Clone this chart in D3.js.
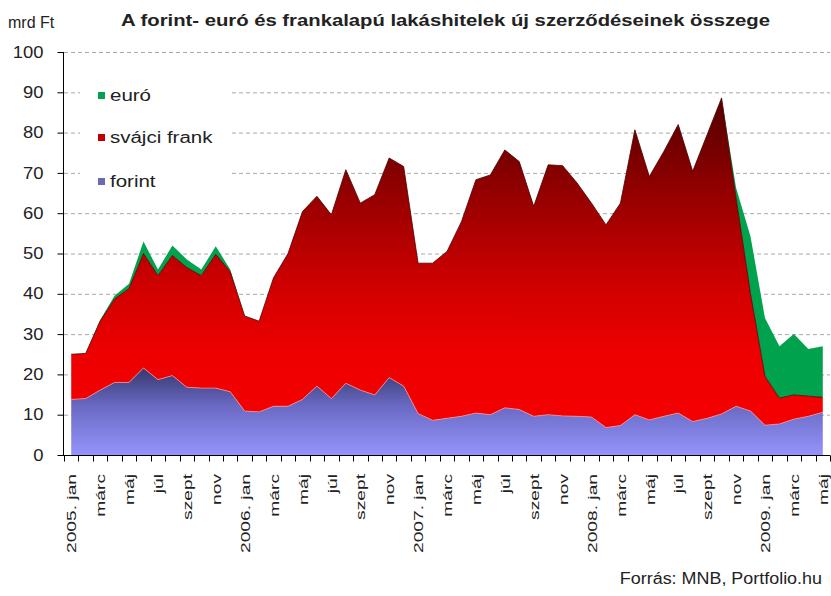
<!DOCTYPE html>
<html>
<head>
<meta charset="utf-8">
<script src="https://cdn.jsdelivr.net/npm/d3@7"></script>
<style>
  body { margin: 0; background: #fff; }
  text { font-family: "Liberation Sans", Arial, sans-serif; fill: #222; }
</style>
</head>
<body>
<div id="chart"></div>
<script>
// Chart data (mrd Ft, monthly, 2005 jan - 2009 máj)
var years = ["2005", "2006", "2007", "2008", "2009"];
var months = ["jan", "febr", "márc", "ápr", "máj", "jún", "júl", "aug", "szept", "okt", "nov", "dec"];

var forint = [13.8, 14.0, 16.1, 18.0, 18.0, 21.6, 18.7, 19.7, 16.8, 16.6, 16.6, 15.7,
  10.9, 10.7, 12.1, 12.1, 13.8, 17.1, 14.0, 17.8, 16.1, 14.9, 19.2, 17.1,
  10.3, 8.6, 9.1, 9.6, 10.4, 10.0, 11.7, 11.3, 9.6, 10.0, 9.7, 9.6,
  9.4, 6.8, 7.3, 10.0, 8.7, 9.6, 10.4, 8.3, 9.1, 10.2, 12.1, 10.9,
  7.4, 7.7, 8.9, 9.6, 10.6];

var frank = [11.2, 11.2, 17.1, 20.7, 23.3, 28.4, 25.8, 29.8, 29.7, 27.9, 33.2, 29.8,
  23.6, 22.5, 31.9, 37.9, 46.6, 47.1, 45.6, 53.0, 46.4, 49.7, 54.5, 54.5,
  37.3, 39.0, 41.4, 48.3, 57.9, 59.5, 64.0, 61.5, 52.1, 62.0, 62.1, 57.9,
  53.1, 50.3, 55.2, 70.7, 60.4, 65.7, 71.6, 62.1, 70.4, 78.4, 51.7, 29.1,
  12.1, 6.4, 6.0, 5.0, 3.7];

var euro = [0, 0, 0.3, 0.8, 1.2, 3.0, 1.5, 2.5, 2.0, 1.5, 2.0, 0.5,
  0, 0, 0, 0, 0, 0, 0, 0, 0, 0, 0, 0,
  0, 0, 0, 0, 0, 0, 0, 0, 0, 0, 0, 0,
  0, 0, 0, 0, 0, 0, 0, 0, 0, 0, 2.5, 14.2,
  14.5, 12.9, 15.1, 11.7, 12.7];

var yTicks = [0, 10, 20, 30, 40, 50, 60, 70, 80, 90, 100];

// build category labels from years / months
var categories = [];
years.forEach(function(yr) {
  months.forEach(function(m, j) {
    if (categories.length < forint.length) {
      categories.push(j === 0 ? yr + ". " + m : m);
    }
  });
});

var data = categories.map(function(c, i) {
  return { idx: i, cat: c, forint: forint[i], frank: frank[i], euro: euro[i] };
});

// Chart parameters
var svgWidth = 831;
var svgHeight = 596;

var svg = d3.select("#chart")
  .append("svg")
  .attr("width", svgWidth)
  .attr("height", svgHeight);

// month labels repeat, so the band scale works on indexes
var xScale = d3.scaleBand()
  .domain(d3.range(categories.length))
  .range([64, 830])
  .padding(0);

var yScale = d3.scaleLinear()
  .domain([0, 100])
  .range([455, 52]);

var xMid = function(i) { return xScale(i) + xScale.bandwidth() / 2; };

// stretch text along its own direction
function stretch(sel, factor) {
  sel.each(function() {
    var w = this.getComputedTextLength();
    d3.select(this)
      .attr("textLength", w * factor)
      .attr("lengthAdjust", "spacingAndGlyphs");
  });
}

// gradients
var defs = svg.append("defs");

var gForint = defs.append("linearGradient")
  .attr("id", "gForint")
  .attr("gradientUnits", "userSpaceOnUse")
  .attr("x1", 0).attr("x2", 0)
  .attr("y1", yScale(22)).attr("y2", yScale(0));
gForint.append("stop").attr("offset", "0%").attr("stop-color", "#34346a");
gForint.append("stop").attr("offset", "45%").attr("stop-color", "#6a6ac4");
gForint.append("stop").attr("offset", "100%").attr("stop-color", "#9494fc");

var gFrank = defs.append("linearGradient")
  .attr("id", "gFrank")
  .attr("gradientUnits", "userSpaceOnUse")
  .attr("x1", 0).attr("x2", 0)
  .attr("y1", yScale(89)).attr("y2", yScale(0));
gFrank.append("stop").attr("offset", "0%").attr("stop-color", "#520000");
gFrank.append("stop").attr("offset", "32%").attr("stop-color", "#a00000");
gFrank.append("stop").attr("offset", "55%").attr("stop-color", "#d40000");
gFrank.append("stop").attr("offset", "72%").attr("stop-color", "#ee0000");
gFrank.append("stop").attr("offset", "100%").attr("stop-color", "#f80000");

// gridlines
svg.append("g")
  .selectAll("line")
  .data(yTicks.slice(1))
  .enter()
  .append("line")
  .attr("x1", 64)
  .attr("x2", 830)
  .attr("y1", d => yScale(d) + 0.5)
  .attr("y2", d => yScale(d) + 0.5)
  .attr("stroke", "#a8a8a8")
  .attr("stroke-dasharray", "4,3");

// stacked areas
var keys = ["forint", "frank", "euro"];
var fills = { forint: "url(#gForint)", frank: "url(#gFrank)", euro: "#00a24e" };
var edges = { forint: "#ff8a8a", frank: "#4a0000", euro: "#008a40" };

var stacked = d3.stack().keys(keys)(data);

var area = d3.area()
  .x(d => xMid(d.data.idx))
  .y0(d => yScale(d[0]))
  .y1(d => yScale(d[1]));

var topLine = d3.line()
  .x(d => xMid(d.data.idx))
  .y(d => yScale(d[1]));

stacked.slice().reverse().forEach(function(s) {
  svg.append("path")
    .datum(s)
    .attr("fill", fills[s.key])
    .attr("d", area);
});

stacked.forEach(function(s) {
  if (s.key === "euro") return;
  svg.append("path")
    .datum(s)
    .attr("fill", "none")
    .attr("stroke", edges[s.key])
    .attr("stroke-width", 1)
    .attr("stroke-opacity", 0.8)
    .attr("d", topLine);
});

// legend (white box over gridlines)
svg.append("rect")
  .attr("x", 80)
  .attr("y", 80)
  .attr("width", 150)
  .attr("height", 115)
  .attr("fill", "#fff");

var legendItems = [
  { label: "euró", color: "#00a24e", y: 101 },
  { label: "svájci frank", color: "#c00000", y: 143 },
  { label: "forint", color: "#6a6ab8", y: 187 }
];

var legend = svg.append("g");
legend.selectAll("rect")
  .data(legendItems)
  .enter()
  .append("rect")
  .attr("x", 98)
  .attr("y", d => d.y - 9)
  .attr("width", 7)
  .attr("height", 7)
  .attr("fill", d => d.color);

legend.selectAll("text")
  .data(legendItems)
  .enter()
  .append("text")
  .attr("x", 110)
  .attr("y", d => d.y)
  .attr("font-size", "16px")
  .text(d => d.label)
  .call(stretch, 1.28);

// axes
var leftAxis = d3.axisLeft(yScale)
  .tickValues(yTicks)
  .tickSize(6)
  .tickFormat(d3.format("d"));

var yAxis = svg.append("g")
  .attr("transform", "translate(63.5, 0)")
  .call(leftAxis);
yAxis.select(".domain").attr("stroke", "#000").attr("d", "M0," + yScale(100) + "V" + yScale(0));
yAxis.selectAll(".tick line").attr("stroke", "#000");
yAxis.selectAll(".tick text")
  .attr("x", -20)
  .attr("font-size", "16px")
  .attr("font-family", "Liberation Sans, Arial, sans-serif")
  .attr("fill", "#333")
  .call(stretch, 1.15);

var bottomAxis = d3.axisBottom(xScale)
  .tickSize(0)
  .tickFormat("");

var xAxis = svg.append("g")
  .attr("transform", "translate(0, 455.5)")
  .call(bottomAxis);
xAxis.select(".domain").attr("stroke", "#000").attr("d", "M58,0H830");
xAxis.selectAll(".tick").remove();

// tick marks on category boundaries
var bounds = d3.range(categories.length).map(i => xScale(i)).concat([830]);
xAxis.selectAll(".bound")
  .data(bounds)
  .enter()
  .append("line")
  .attr("class", "bound")
  .attr("x1", d => Math.round(d) + 0.5)
  .attr("x2", d => Math.round(d) + 0.5)
  .attr("y1", 0)
  .attr("y2", 6)
  .attr("stroke", "#000");

// x labels every second month, rotated
svg.append("g")
  .selectAll("text")
  .data(data.filter(d => d.idx % 2 === 0))
  .enter()
  .append("text")
  .attr("transform", d => `translate(${xMid(d.idx) + 1}, 474) rotate(-90)`)
  .attr("text-anchor", "end")
  .attr("dy", "0.35em")
  .attr("font-size", "12px")
  .attr("fill", "#333")
  .text(d => d.cat)
  .call(stretch, 1.6);

// title and captions
svg.append("text")
  .attr("x", 8)
  .attr("y", 28)
  .attr("font-size", "16px")
  .attr("fill", "#333")
  .text("mrd Ft");

svg.append("text")
  .attr("x", 121)
  .attr("y", 26)
  .attr("font-size", "16px")
  .attr("font-weight", "bold")
  .attr("fill", "#111")
  .attr("textLength", 649)
  .attr("lengthAdjust", "spacingAndGlyphs")
  .text("A forint- euró és frankalapú lakáshitelek új szerződéseinek összege");

svg.append("text")
  .attr("x", 822)
  .attr("y", 584)
  .attr("text-anchor", "end")
  .attr("font-size", "16px")
  .attr("fill", "#444")
  .text("Forrás: MNB, Portfolio.hu")
  .call(stretch, 1.12);
</script>
</body>
</html>
